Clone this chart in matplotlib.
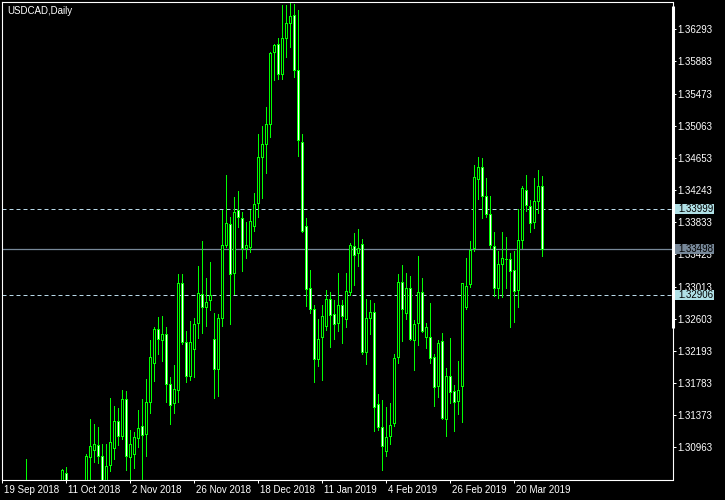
import matplotlib
matplotlib.use('Agg')
import matplotlib.pyplot as plt
import matplotlib.transforms as mtransforms
from matplotlib.patches import Rectangle
import numpy as np
import pandas as pd

plt.rcParams['font.family'] = ['Liberation Sans', 'DejaVu Sans']

# ---------------- data ----------------
holidays = ['2018-12-25', '2019-01-01']
dates = pd.bdate_range('2018-09-19', '2019-03-29')
dates = dates[~dates.isin(pd.to_datetime(holidays))]

opens = [1.2960, 1.2925, 1.2915, 1.2950, 1.2975, 1.2965, 1.3005, 1.3040, 1.2915, 1.2810,
         1.2860, 1.2790, 1.2880, 1.2925, 1.2960, 1.2995, 1.3063, 1.2985, 1.3020, 1.3030,
         1.3000, 1.3035, 1.30836, 1.30925, 1.30989, 1.30849, 1.3040, 1.30734, 1.30951, 1.31295,
         1.31112, 1.31580, 1.30836, 1.30882, 1.31079, 1.31231, 1.31130, 1.31545, 1.32035, 1.32468,
         1.32328, 1.32405, 1.31767, 1.31525, 1.31691, 1.33055, 1.32303, 1.31869, 1.32213, 1.32545,
         1.32915, 1.32753, 1.32838, 1.32349, 1.31958, 1.32609, 1.33543, 1.33807, 1.33182, 1.33989,
         1.33884, 1.33501, 1.33521, 1.33782, 1.34075, 1.34661, 1.34827, 1.35082, 1.36000, 1.36102,
         1.35720, 1.36179, 1.36370, 1.36472, 1.35771, 1.34860, 1.33782, 1.32991, 1.32723, 1.32086,
         1.32366, 1.32507, 1.32851, 1.32660, 1.32545, 1.32774, 1.32596, 1.32940, 1.33526, 1.33437,
         1.33552, 1.32175, 1.32609, 1.32685, 1.31512, 1.31219, 1.30913, 1.31104, 1.31270, 1.32111,
         1.33068, 1.32672, 1.32991, 1.32332, 1.32545, 1.32940, 1.32366, 1.32366, 1.32111, 1.31749,
         1.32315, 1.31328, 1.31869, 1.31678, 1.31550, 1.31742, 1.32749, 1.33042, 1.33501, 1.34381,
         1.34534, 1.34164, 1.33934, 1.33526, 1.32991, 1.33297, 1.33370, 1.33361, 1.33221, 1.32966,
         1.33603, 1.34240, 1.34036, 1.33833, 1.34100, 1.34292]
highs = [1.2995, 1.2950, 1.2965, 1.2990, 1.3000, 1.3020, 1.3082, 1.3045, 1.2920, 1.2880,
         1.2870, 1.2890, 1.2945, 1.2980, 1.3010, 1.3069, 1.3071, 1.3030, 1.3040, 1.3040,
         1.3045, 1.30878, 1.31325, 1.31261, 1.31223, 1.31006, 1.31006, 1.31592, 1.31490, 1.31465,
         1.31695, 1.31682, 1.31185, 1.31159, 1.31439, 1.31580, 1.31835, 1.32332, 1.32501, 1.32625,
         1.32638, 1.32501, 1.31860, 1.32013, 1.33174, 1.33174, 1.32447, 1.32574, 1.32613, 1.33276,
         1.33594, 1.33122, 1.33326, 1.32672, 1.32667, 1.33989, 1.34436, 1.33904, 1.34159, 1.34232,
         1.33960, 1.33833, 1.33989, 1.34206, 1.34958, 1.35060, 1.35303, 1.36000, 1.36110, 1.36179,
         1.36599, 1.36599, 1.36633, 1.36616, 1.36540, 1.34955, 1.33884, 1.33224, 1.32774, 1.32596,
         1.32774, 1.32966, 1.32940, 1.32838, 1.33182, 1.32838, 1.33182, 1.33565, 1.33692, 1.33743,
         1.33616, 1.32851, 1.32838, 1.32800, 1.31640, 1.31563, 1.31474, 1.31525, 1.32150, 1.33170,
         1.33284, 1.33182, 1.33144, 1.32587, 1.33403, 1.33122, 1.32545, 1.32804, 1.32150, 1.32332,
         1.32417, 1.31975, 1.32357, 1.31758, 1.32064, 1.33059, 1.33378, 1.33594, 1.34563, 1.34661,
         1.34649, 1.34394, 1.34164, 1.33705, 1.33463, 1.33705, 1.33641, 1.33437, 1.33463, 1.34000,
         1.34295, 1.34432, 1.34113, 1.34394, 1.34496, 1.34419]
lows = [1.2915, 1.2880, 1.2900, 1.2930, 1.2940, 1.2950, 1.2990, 1.2900, 1.2780, 1.2800,
        1.2785, 1.2785, 1.2870, 1.2915, 1.2930, 1.2980, 1.2965, 1.2955, 1.2995, 1.2990,
        1.2985, 1.3020, 1.3045, 1.30780, 1.30764, 1.3030, 1.3030, 1.30665, 1.30815, 1.30997,
        1.31066, 1.30674, 1.3050, 1.30696, 1.30971, 1.30560, 1.30857, 1.31397, 1.31813, 1.32150,
        1.32068, 1.31545, 1.31257, 1.31405, 1.31545, 1.32277, 1.31800, 1.31822, 1.31864, 1.32354,
        1.32417, 1.32514, 1.32711, 1.31588, 1.31622, 1.32514, 1.33521, 1.32532, 1.32915, 1.33769,
        1.33216, 1.33374, 1.33450, 1.33718, 1.33896, 1.34139, 1.34457, 1.34916, 1.35643, 1.35656,
        1.35656, 1.35936, 1.36064, 1.35681, 1.34682, 1.33710, 1.32769, 1.32672, 1.31800, 1.32004,
        1.31826, 1.32456, 1.32247, 1.32341, 1.32447, 1.32297, 1.32501, 1.32902, 1.33033, 1.33279,
        1.32150, 1.32022, 1.32405, 1.31175, 1.31188, 1.30674, 1.30849, 1.31009, 1.31239, 1.32035,
        1.32315, 1.32596, 1.32328, 1.31949, 1.32268, 1.32438, 1.32234, 1.32035, 1.31494, 1.31609,
        1.31328, 1.31112, 1.31525, 1.31175, 1.31392, 1.31290, 1.32731, 1.33004, 1.33471, 1.34126,
        1.33891, 1.33904, 1.33501, 1.32897, 1.32863, 1.32884, 1.32999, 1.32494, 1.32565, 1.32749,
        1.33505, 1.33973, 1.33705, 1.33756, 1.33947, 1.33407]
closes = [1.2925, 1.2915, 1.2950, 1.2975, 1.2965, 1.3005, 1.3040, 1.2915, 1.2810, 1.2860,
          1.2790, 1.2880, 1.2925, 1.2960, 1.2995, 1.3067, 1.2985, 1.3020, 1.3030, 1.3000,
          1.3035, 1.30853, 1.30980, 1.31002, 1.30849, 1.3040, 1.30725, 1.31027, 1.31295, 1.31112,
          1.31580, 1.30853, 1.31002, 1.31095, 1.31210, 1.31117, 1.31537, 1.32111, 1.32468, 1.32341,
          1.32405, 1.31767, 1.31499, 1.31703, 1.33055, 1.32303, 1.31869, 1.32303, 1.32532, 1.32927,
          1.32753, 1.32813, 1.32902, 1.31958, 1.32609, 1.33539, 1.33820, 1.33170, 1.33960, 1.33896,
          1.33501, 1.33539, 1.33845, 1.34062, 1.34661, 1.34827, 1.35082, 1.35991, 1.36089, 1.35720,
          1.36179, 1.36370, 1.36459, 1.35771, 1.34878, 1.33718, 1.32978, 1.32723, 1.32086, 1.32341,
          1.32634, 1.32851, 1.32647, 1.32532, 1.32774, 1.32634, 1.32953, 1.33539, 1.33412, 1.33501,
          1.32175, 1.32609, 1.32685, 1.31474, 1.31219, 1.30976, 1.31091, 1.31244, 1.32098, 1.33068,
          1.32723, 1.32991, 1.32341, 1.32532, 1.32940, 1.32451, 1.32494, 1.32098, 1.31736, 1.32290,
          1.31341, 1.31869, 1.31673, 1.31545, 1.31691, 1.33055, 1.33017, 1.33476, 1.34406, 1.34534,
          1.34164, 1.33934, 1.33539, 1.32991, 1.33297, 1.33374, 1.33361, 1.33208, 1.32960, 1.33603,
          1.34266, 1.34049, 1.33820, 1.34100, 1.34292, 1.33498]

date_labels = ['19 Sep 2018', '11 Oct 2018', '2 Nov 2018', '26 Nov 2018', '18 Dec 2018',
               '11 Jan 2019', '4 Feb 2019', '26 Feb 2019', '20 Mar 2019']
label_dates = ['2018-09-19', '2018-10-11', '2018-11-02', '2018-11-26', '2018-12-18',
               '2019-01-11', '2019-02-04', '2019-02-26', '2019-03-20']
price_ticks = [1.36293, 1.35883, 1.35473, 1.35063, 1.34653, 1.34243, 1.33833,
               1.33423, 1.33013, 1.32603, 1.32193, 1.31783, 1.31373, 1.30963]
level_lines = [1.33999, 1.32906]
bid_price = 1.33498
symbol_title = 'USDCAD,Daily'

# ---------------- figure ----------------
W, H = 725, 500
fig = plt.figure(figsize=(W / 100, H / 100), dpi=100, facecolor='black')
ax_l, ax_r, ax_t, ax_b = 2.0, 672.5, 2.0, 479.5
ax = fig.add_axes([ax_l / W, 1 - ax_b / H, (ax_r - ax_l) / W, (ax_b - ax_t) / H])
ax.set_facecolor('black')

n = len(opens)
x = np.arange(n)
o = np.array(opens); hi = np.array(highs); lo = np.array(lows); c = np.array(closes)

px_per_bar = 4.0
x0 = -0.3 / px_per_bar
ax.set_xlim(x0, x0 + (ax_r - ax_l) / px_per_bar)
ax.set_ylim(1.30553, 1.36641)

lime = '#00FF00'
ax.vlines(x, lo, hi, colors=lime, linewidth=0.72, antialiased=False, zorder=3)
bear = c < o
bottoms = np.minimum(o, c)
heights = np.maximum(np.abs(c - o), 1e-6)
ax.bar(x, heights, bottom=bottoms, width=0.5,
       color=np.where(bear, 'white', 'black'), edgecolor=lime,
       linewidth=0.72, antialiased=False, zorder=4)

# level lines
for lv in level_lines:
    ax.axhline(lv, color='#B8D8E8', linewidth=0.72, linestyle=(0, (4, 3)), zorder=2)
ax.axhline(bid_price, color='#778899', linewidth=0.9, zorder=2)

# spines
for s in ax.spines.values():
    s.set_color('white')
    s.set_linewidth(0.8)
ax.plot([1, 1], [(ax_b - 328) / (ax_b - ax_t), (ax_b - 6) / (ax_b - ax_t)],
        transform=ax.transAxes, color='white', linewidth=2.2,
        solid_capstyle='butt', clip_on=False, zorder=6)

# y axis on right
ax.yaxis.tick_right()
ax.set_yticks(price_ticks)
ax.set_yticklabels(['%.5f' % v for v in price_ticks])
ax.tick_params(axis='y', colors='white', length=2.5, width=0.72, labelsize=7, pad=0.8)

# x axis
tick_pos = [int(dates.get_loc(pd.Timestamp(d))) for d in label_dates]
ax.set_xticks(tick_pos)
ax.set_xticklabels(date_labels)
ax.tick_params(axis='x', colors='white', length=2.5, width=0.72, labelsize=7, pad=1.5)
offset = mtransforms.ScaledTranslation(1.5 / 100, 0, fig.dpi_scale_trans)
for lbl in ax.get_xticklabels():
    lbl.set_ha('left')
    lbl.set_transform(lbl.get_transform() + offset)

# price boxes on the right
bt = mtransforms.blended_transform_factory(fig.transFigure, ax.transData)
box_h = 10 * (1.36641 - 1.30553) / (ax_b - ax_t)
for val, fc in [(level_lines[0], '#B0E0E6'), (level_lines[1], '#B0E0E6'), (bid_price, '#778899')]:
    r = Rectangle((675 / W, val - box_h / 2), 39 / W, box_h, transform=bt,
                  facecolor=fc, edgecolor='none', clip_on=False, zorder=7)
    fig.add_artist(r)
    fig.text(678.5 / W, val, '%.5f' % val, transform=bt, color='black', fontsize=7,
             va='center', ha='left', zorder=8)

fig.text(7 / W, 1 - 10.5 / H, symbol_title, color='white', fontsize=7, va='center', ha='left')

fig.savefig('out.png', dpi=100, facecolor='black')
